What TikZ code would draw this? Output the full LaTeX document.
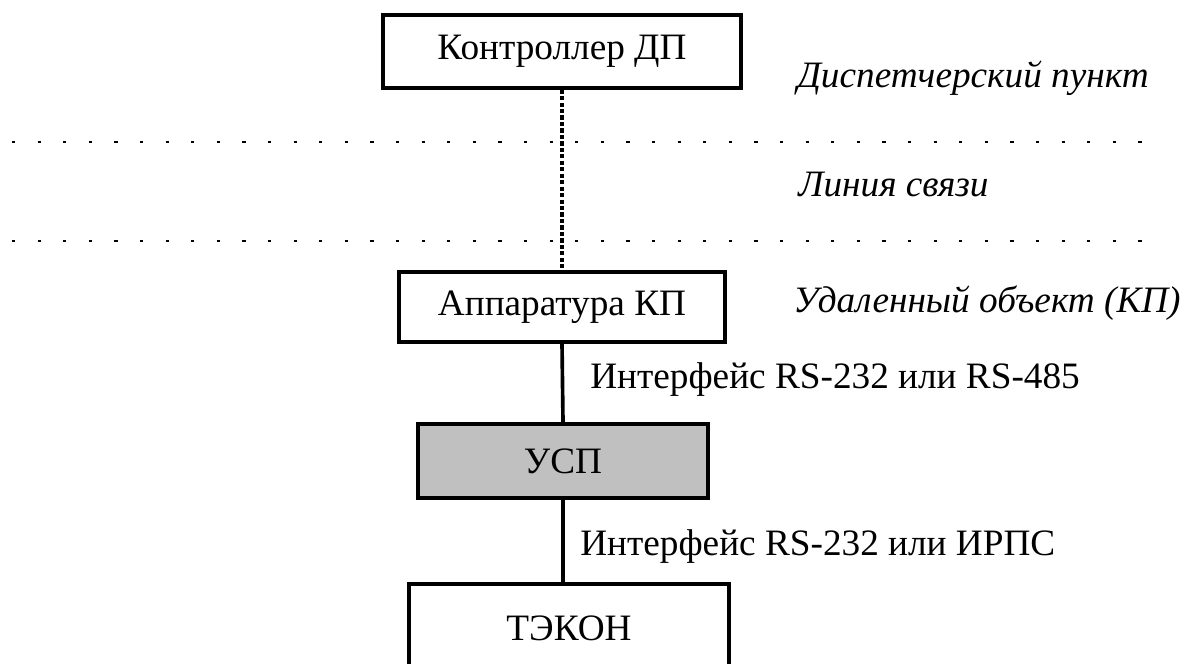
\documentclass[tikz,border=0pt]{standalone}
\usepackage{fontspec}
\setmainfont{Liberation Serif}
\usetikzlibrary{positioning}
\definecolor{uspgray}{RGB}{192,192,192}

\begin{document}
\begin{tikzpicture}[
  font=\fontsize{26.5}{31}\selectfont,
  box/.style={draw, line width=2.4pt, minimum height=1.8cm, align=center, inner sep=2pt, fill=white},
  ann/.style={anchor=west, inner sep=0pt, font=\fontsize{26.5}{31}\selectfont\itshape},
  iflab/.style={anchor=west, inner sep=0pt},
  sepline/.style={line width=1.4pt, dash pattern=on 0.08cm off 0.56cm},
  link/.style={line width=2.6pt},
]
\useasboundingbox (0,0) rectangle (29.6,16.575);
\clip (0,0) rectangle (29.6,16.575);
% zone separators
\draw[sepline] (0.3,13.025) -- (28.7,13.025);
\draw[sepline] (0.3,10.55) -- (28.7,10.55);
% blocks
\node[box, minimum width=8.95cm, minimum height=1.825cm] (ctrl) at (14.05,15.29) {Контроллер ДП};
\node[box, minimum width=8.15cm, minimum height=1.75cm] (app) at (14.05,8.9) {Аппаратура КП};
\node[box, minimum width=7.25cm, minimum height=1.85cm, fill=uspgray] (usp) at (14.075,5.05) {УСП};
\node[box, minimum width=8cm, minimum height=2.2cm] (tekon) at (14.225,0.875) {ТЭКОН};
% links
\draw[link, dash pattern=on 3pt off 1.6pt] (ctrl.south) -- (app.north);
\draw[link] (app.south) -- (usp.north);
\draw[link] (usp.south) -- (usp.south |- tekon.north);
% zone names (right)
\node[ann] (zdp) at (19.925,14.625) {Диспетчерский пункт};
\node[ann] (zline) at (19.95,11.95) {Линия связи};
\node[ann] (zkp) at (19.825,9.0) {Удаленный объект (КП)};
% interface labels
\node[iflab] (if1) at (14.75,7.075) {Интерфейс RS-232 или RS-485};
\node[iflab] (if2) at (14.5,2.9) {Интерфейс RS-232 или ИРПС};
\end{tikzpicture}
\end{document}
